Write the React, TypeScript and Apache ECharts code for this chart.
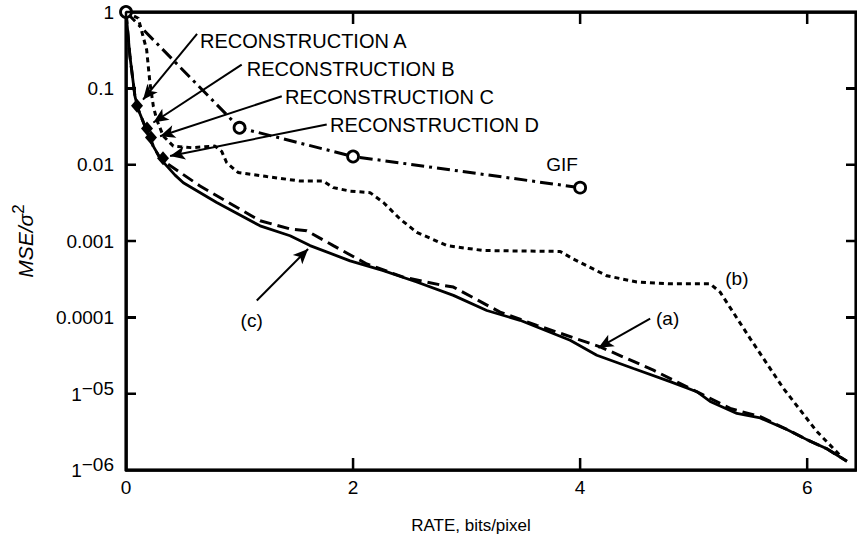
import React, { useEffect, useRef } from "react";
import * as echarts from "echarts";

const FONT = '"Liberation Sans", Arial, Helvetica, sans-serif';

// Tick values and labels
const xTickValues = [0, 2, 4, 6];
const xTickLabels = ["0", "2", "4", "6"];
const yTickValues = [0.000001, 0.00001, 0.0001, 0.001, 0.01, 0.1, 1];
const yTickLabels = ["1−06", "1−05", "0.0001", "0.001", "0.01", "0.1", "1"];

// Curve (c): solid
const rateC = [0, 0.035, 0.079, 0.108, 0.167, 0.24, 0.305, 0.432, 0.505, 0.799, 1.181, 1.445, 1.621, 1.974, 2.267, 2.561, 2.884, 3.178, 3.471, 3.912, 4.147, 4.47, 4.793, 5.028, 5.145, 5.381, 5.586, 5.821, 5.997, 6.173, 6.35];
const mseC = [1, 0.261, 0.0785, 0.0527, 0.0319, 0.0175, 0.0118, 0.0073, 0.0058, 0.0032, 0.00158, 0.00117, 0.00087, 0.00055, 0.00041, 0.00029, 0.000194, 0.000123, 0.0000914, 0.0000501, 0.0000319, 0.0000214, 0.0000144, 0.0000106, 0.0000079, 0.0000055, 0.0000048, 0.0000034, 0.0000025, 0.0000019, 0.0000013];

// Curve (a): dashed
const rateA = [0, 0.035, 0.079, 0.108, 0.167, 0.24, 0.305, 0.652, 1.004, 1.181, 1.445, 1.592, 1.826, 2.121, 2.443, 2.796, 2.884, 3.295, 3.619, 4.176, 4.646, 5.057, 5.322, 5.586, 5.821, 5.997, 6.173, 6.35];
const mseA = [1, 0.261, 0.0785, 0.0527, 0.0319, 0.0175, 0.0118, 0.00526, 0.00261, 0.00184, 0.00144, 0.00136, 0.00087, 0.0005, 0.000336, 0.000261, 0.000249, 0.000117, 0.0000786, 0.0000411, 0.0000203, 0.0000101, 0.0000064, 0.000005, 0.0000034, 0.0000025, 0.0000019, 0.0000013];

// Curve (b): dotted
const rateB = [0, 0.108, 0.182, 0.211, 0.241, 0.27, 0.329, 0.417, 0.579, 0.784, 0.843, 0.887, 0.987, 1.24, 1.533, 1.738, 1.826, 1.974, 2.15, 2.267, 2.414, 2.561, 2.826, 3.148, 3.824, 3.941, 4.235, 4.5, 4.793, 5.145, 5.233, 5.498, 5.791, 6.085, 6.3];
const mseB = [1, 0.828, 0.319, 0.1175, 0.0582, 0.039, 0.0236, 0.0175, 0.0167, 0.0175, 0.0149, 0.0106, 0.0079, 0.007, 0.0061, 0.0061, 0.005, 0.0045, 0.0043, 0.0032, 0.00194, 0.0013, 0.00087, 0.00075, 0.00073, 0.00058, 0.00035, 0.00029, 0.000275, 0.000275, 0.000214, 0.0000527, 0.0000117, 0.0000032, 0.0000015];

// GIF: dash-dot with open circles
const rateGIF = [0, 1, 2, 4];
const mseGIF = [1, 0.0304, 0.0128, 0.005];

// Reconstructions A-D (filled diamonds)
const rateRecon = [0.097, 0.185, 0.22, 0.326];
const mseRecon = [0.059, 0.0298, 0.0227, 0.0121];

// Annotation texts and anchors (data coordinates)
const noteTexts = ["RECONSTRUCTION A", "RECONSTRUCTION B", "RECONSTRUCTION C", "RECONSTRUCTION D", "GIF", "(a)", "(b)", "(c)"];
const noteRate = [0.652, 1.063, 1.401, 1.797, 3.84, 4.771, 5.381, 1.107];
const noteMse = [0.419, 0.181, 0.0767, 0.0326, 0.0101, 0.000096, 0.00032, 0.0000897];
const noteLeftAligned = [true, true, true, true, false, false, false, false];

// Arrows (data coordinates)
const arrowFromRate = [0.626, 1.019, 1.372, 1.768, 1.152, 4.617];
const arrowFromMse = [0.516, 0.204, 0.0786, 0.0336, 0.000166, 0.000096];
const arrowToRate = [0.15, 0.241, 0.3, 0.388, 1.604, 4.161];
const arrowToMse = [0.0711, 0.0357, 0.0236, 0.013, 0.000787, 0.0000399];

const pairs = (xs: number[], ys: number[]) => xs.map((x, i) => [x, ys[i]]);

const BLACK = "#000000";
const W = 857;
const H = 539;
const GRID = { left: 126, right: 1, top: 12, bottom: 67 };
const X_MIN = 0;
const X_MAX = 6.43;
const Y_MIN = 0.000001;
const Y_MAX = 1;

function makeX(position: "top" | "bottom", withLabels: boolean, fmt: (v: number) => string) {
  return {
    type: "value",
    gridIndex: 0,
    position,
    min: X_MIN,
    max: X_MAX,
    interval: 2,
    splitLine: { show: false },
    axisLine: { show: true, onZero: false, lineStyle: { color: BLACK, width: 2.5 } },
    axisTick: { show: true, inside: true, length: 12, lineStyle: { color: BLACK, width: 2 } },
    axisLabel: withLabels
      ? { show: true, color: BLACK, fontSize: 19, fontFamily: FONT, margin: 8, formatter: fmt, showMaxLabel: false }
      : { show: false },
  };
}

function makeY(position: "left" | "right", withLabels: boolean, fmt: (v: number) => string) {
  return {
    type: "log",
    logBase: 10,
    gridIndex: 0,
    position,
    min: Y_MIN,
    max: Y_MAX,
    splitLine: { show: false },
    axisLine: { show: true, onZero: false, lineStyle: { color: BLACK, width: 2.5 } },
    axisTick: { show: true, inside: true, length: 10, lineStyle: { color: BLACK, width: 2 } },
    axisLabel: withLabels
      ? {
          show: true,
          margin: 12,
          formatter: fmt,
          color: BLACK,
          fontFamily: FONT,
          fontSize: 19,
          rich: {
            n: { fontSize: 19, fontFamily: FONT, color: BLACK },
            m: { fontSize: 19, fontFamily: FONT, color: BLACK, lineHeight: 20, verticalAlign: "bottom" },
            e: { fontSize: 19, fontFamily: FONT, color: BLACK, lineHeight: 20, verticalAlign: "bottom", padding: [0, 0, 6, 0] },
          },
        }
      : { show: false },
  };
}

export default function App() {
  const ref = useRef<HTMLDivElement>(null);

  useEffect(() => {
    const chart = echarts.init(ref.current!, null, { renderer: "svg", width: W, height: H });

    const yFmt = (v: number) => {
      const e = Math.round(Math.log10(v));
      const s = yTickLabels[e + 6] ?? "";
      if (s.indexOf("−") > 0) {
        const parts = s.split("−");
        return `{m|${parts[0]}}{e|−${parts[1]}}`;
      }
      return `{n|${s}}`;
    };
    const xFmt = (v: number) => {
      const r = Math.round(v);
      if (Math.abs(v - r) > 1e-6 || r % 2 !== 0) return "";
      return xTickLabels[r / 2] ?? "";
    };

    const gridW = W - GRID.left - GRID.right;
    const gridH = H - GRID.top - GRID.bottom;
    const xPerPx = (X_MAX - X_MIN) / gridW;
    const decadesPerPx = Math.log10(Y_MAX / Y_MIN) / gridH;
    const upBy = (v: number, px: number) => v * Math.pow(10, px * decadesPerPx);
    const innerX = xTickValues.filter((v) => v > X_MIN && v < X_MAX);
    const innerY = yTickValues.filter((v) => v > Y_MIN && v < Y_MAX);

    // Frame with inward ticks as a single polyline
    const framePts: number[][] = [[X_MIN, Y_MIN]];
    innerX.forEach((v) => framePts.push([v, Y_MIN], [v, upBy(Y_MIN, 12)], [v, Y_MIN]));
    framePts.push([X_MAX, Y_MIN]);
    innerY.forEach((v) => framePts.push([X_MAX, v], [X_MAX - 10 * xPerPx, v], [X_MAX, v]));
    framePts.push([X_MAX, Y_MAX]);
    [...innerX].reverse().forEach((v) => framePts.push([v, Y_MAX], [v, upBy(Y_MAX, -12)], [v, Y_MAX]));
    framePts.push([X_MIN, Y_MAX]);
    [...innerY].reverse().forEach((v) => framePts.push([X_MIN, v], [X_MIN + 10 * xPerPx, v], [X_MIN, v]));
    framePts.push([X_MIN, Y_MIN]);

    const arrowData = arrowFromRate.map((x, i) => [
      { coord: [x, arrowFromMse[i]], symbol: "none" },
      { coord: [arrowToRate[i], arrowToMse[i]], symbol: "arrow", symbolSize: [10, 15] },
    ]);

    const noteData = noteTexts.map((t, i) => ({
      value: [noteRate[i], noteMse[i]],
      label: {
        show: true,
        formatter: t,
        position: noteLeftAligned[i] ? "right" : "inside",
        distance: 0,
        fontSize: noteLeftAligned[i] ? 20 : 19,
        fontFamily: FONT,
        color: BLACK,
      },
    }));

    const xBottom: any = makeX("bottom", true, xFmt);
    xBottom.name = "RATE, bits/pixel";
    xBottom.nameLocation = "middle";
    xBottom.nameGap = 47;
    xBottom.nameTextStyle = { fontSize: 17, fontFamily: FONT, color: BLACK, padding: [0, 40, 0, 0] };

    const yLeft: any = makeY("left", true, yFmt);
    yLeft.name = "{i|MSE/σ}{s|2}";
    yLeft.nameLocation = "middle";
    yLeft.nameRotate = 90;
    yLeft.nameGap = 90;
    yLeft.nameTextStyle = {
      rich: {
        i: { fontStyle: "italic", fontSize: 21, fontFamily: FONT, color: BLACK, lineHeight: 22, verticalAlign: "bottom" },
        s: { fontSize: 17, fontFamily: FONT, color: BLACK, lineHeight: 18, verticalAlign: "bottom", padding: [0, 0, 9, 0] },
      },
    };

    chart.setOption({
      animation: false,
      grid: { ...GRID, containLabel: false, show: true, borderColor: BLACK, borderWidth: 2.5, backgroundColor: "rgba(0,0,0,0)" },
      xAxis: [xBottom, makeX("top", false, xFmt)],
      yAxis: [yLeft, makeY("right", false, yFmt)],
      series: [
        {
          name: "frame",
          type: "line",
          xAxisIndex: 0,
          yAxisIndex: 0,
          data: framePts,
          showSymbol: false,
          symbol: "none",
          clip: false,
          smooth: false,
          lineStyle: { color: BLACK, width: 2.5, type: "solid" },
          z: 8,
          markArea: {
            silent: true,
            itemStyle: { color: "rgba(0,0,0,0)", borderColor: BLACK, borderWidth: 2.5 },
            data: [[{ coord: [X_MIN, Y_MAX] }, { coord: [X_MAX, Y_MIN] }]],
          },
        },
        {
          name: "(b)",
          type: "line",
          xAxisIndex: 0,
          yAxisIndex: 0,
          data: pairs(rateB, mseB),
          showSymbol: false,
          symbol: "none",
          lineStyle: { color: BLACK, width: 3, type: [5, 4] },
          z: 3,
        },
        {
          name: "(a)",
          type: "line",
          xAxisIndex: 0,
          yAxisIndex: 0,
          data: pairs(rateA, mseA),
          showSymbol: false,
          symbol: "none",
          lineStyle: { color: BLACK, width: 3, type: [12, 6] },
          z: 3,
        },
        {
          name: "(c)",
          type: "line",
          xAxisIndex: 0,
          yAxisIndex: 0,
          data: pairs(rateC, mseC),
          showSymbol: false,
          symbol: "none",
          lineStyle: { color: BLACK, width: 2.8, type: "solid" },
          z: 4,
        },
        {
          name: "GIF",
          type: "line",
          xAxisIndex: 0,
          yAxisIndex: 0,
          data: pairs(rateGIF, mseGIF),
          showSymbol: true,
          symbol: "circle",
          symbolSize: 11,
          itemStyle: { color: "#fff", borderColor: BLACK, borderWidth: 2.8, opacity: 1 },
          lineStyle: { color: BLACK, width: 3, type: [13, 5, 3, 5] },
          z: 5,
        },
        {
          name: "Reconstructions",
          type: "scatter",
          xAxisIndex: 0,
          yAxisIndex: 0,
          data: pairs(rateRecon, mseRecon),
          symbol: "diamond",
          symbolSize: [12, 14],
          itemStyle: { color: BLACK, opacity: 1 },
          z: 6,
        },
        {
          name: "Notes",
          type: "scatter",
          xAxisIndex: 0,
          yAxisIndex: 0,
          data: noteData,
          symbolSize: 0,
          itemStyle: { opacity: 1 },
          clip: false,
          z: 7,
          markLine: {
            silent: true,
            animation: false,
            symbol: ["none", "arrow"],
            label: { show: false },
            lineStyle: { color: BLACK, width: 2, type: "solid", opacity: 1 },
            data: arrowData,
          },
        },
      ],
    });

    return () => chart.dispose();
  }, []);

  return <div ref={ref} style={{ position: "absolute", left: 0, top: 0, width: W, height: H }} />;
}
